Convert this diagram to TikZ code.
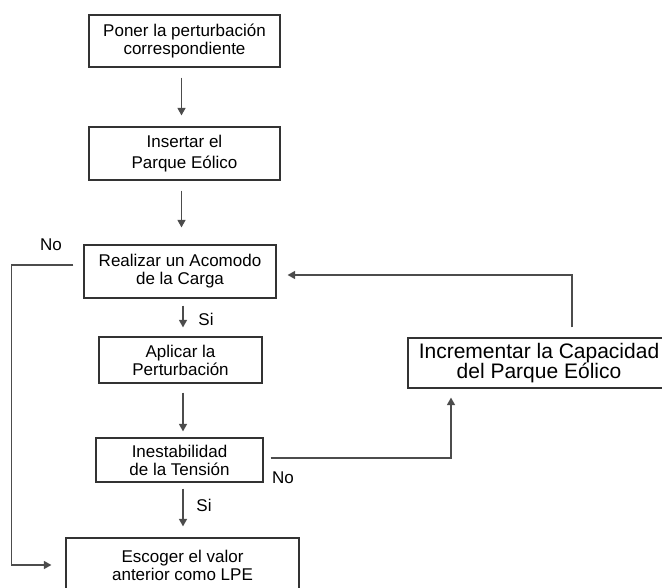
\documentclass[tikz,border=0pt]{standalone}
\usepackage{fontspec}
\setmainfont{Liberation Sans}
\usetikzlibrary{arrows.meta}

\begin{document}
\begin{tikzpicture}[x=1pt,y=-1pt,
    box/.style={draw=black!80, line width=1.2pt, inner sep=0pt, align=center,
      font=\fontsize{17}{18}\selectfont},
    flow/.style={draw=black!70, line width=1.4pt, -{Triangle[width=8pt,length=7.5pt]},
      shorten <=9pt, shorten >=9pt},
    lbl/.style={font=\fontsize{17}{18}\selectfont, inner sep=0pt}]
    \useasboundingbox (0,0) rectangle (662,588);
    \clip (0,0) rectangle (662,588);
    \node [box, minimum width=191pt, minimum height=52pt] (poner) at (184.5,41)
      {Poner la perturbación\\correspondiente};
    \node [box, minimum width=191pt, minimum height=53pt,
      font=\fontsize{17}{21}\selectfont] (insertar) at (184.5,153.5)
      {Insertar el\\Parque Eólico};
    \node [box, minimum width=192pt, minimum height=53pt] (acomodo) at (180,271.5)
      {Realizar un Acomodo\\de la Carga};
    \node [box, minimum width=163pt, minimum height=46pt] (aplicar) at (180.5,360)
      {Aplicar la\\Perturbación};
    \node [box, minimum width=167pt, minimum height=44pt] (inestab) at (179.5,460)
      {Inestabilidad\\de la Tensión};
    \node [box, minimum width=262pt, minimum height=50pt,
      font=\fontsize{21}{20}\selectfont] (increm) at (539,363)
      {Incrementar la Capacidad\\del Parque Eólico};
    \node [box, minimum width=233pt, minimum height=54pt] (escoger) at (182.5,565)
      {Escoger el valor\\anterior como LPE};
    \draw [flow, shorten <=10pt, shorten >=11pt] ([xshift=-3pt]poner.south)
      -- ([xshift=-3pt]poner.south |- insertar.north);
    \draw [flow, shorten <=10pt, shorten >=17pt] ([xshift=-3pt]insertar.south)
      -- ([xshift=-3pt]insertar.south |- acomodo.north);
    \draw [flow, shorten <=7pt] ([xshift=3pt]acomodo.south)
      -- ([xshift=3pt]acomodo.south |- aplicar.north);
    \draw [flow, shorten >=6pt] ([xshift=2.5pt]aplicar.south)
      -- ([xshift=2.5pt]aplicar.south |- inestab.north);
    \draw [flow, shorten <=6pt, shorten >=11pt] ([xshift=3.5pt]inestab.south)
      -- ([xshift=3.5pt]inestab.south |- escoger.north);
    \draw [flow, shorten <=7pt] ([yshift=2pt]inestab.east) -| ([xshift=-88pt]increm.south);
    \draw [flow, shorten <=10pt, shorten >=11pt] ([xshift=33pt]increm.north)
      |- ([yshift=-3.5pt]acomodo.east);
    \draw [flow, shorten <=10pt, shorten >=14pt] ([yshift=6.5pt]acomodo.west)
      -- ++(-72,0) |- (escoger.west);
    \node [lbl] (si1) at (206,319) {Si};
    \node [lbl] (si2) at (204,505) {Si};
    \node [lbl] (no1) at (51,245) {No};
    \node [lbl] (no2) at (283,478) {No};
\end{tikzpicture}
\end{document}
